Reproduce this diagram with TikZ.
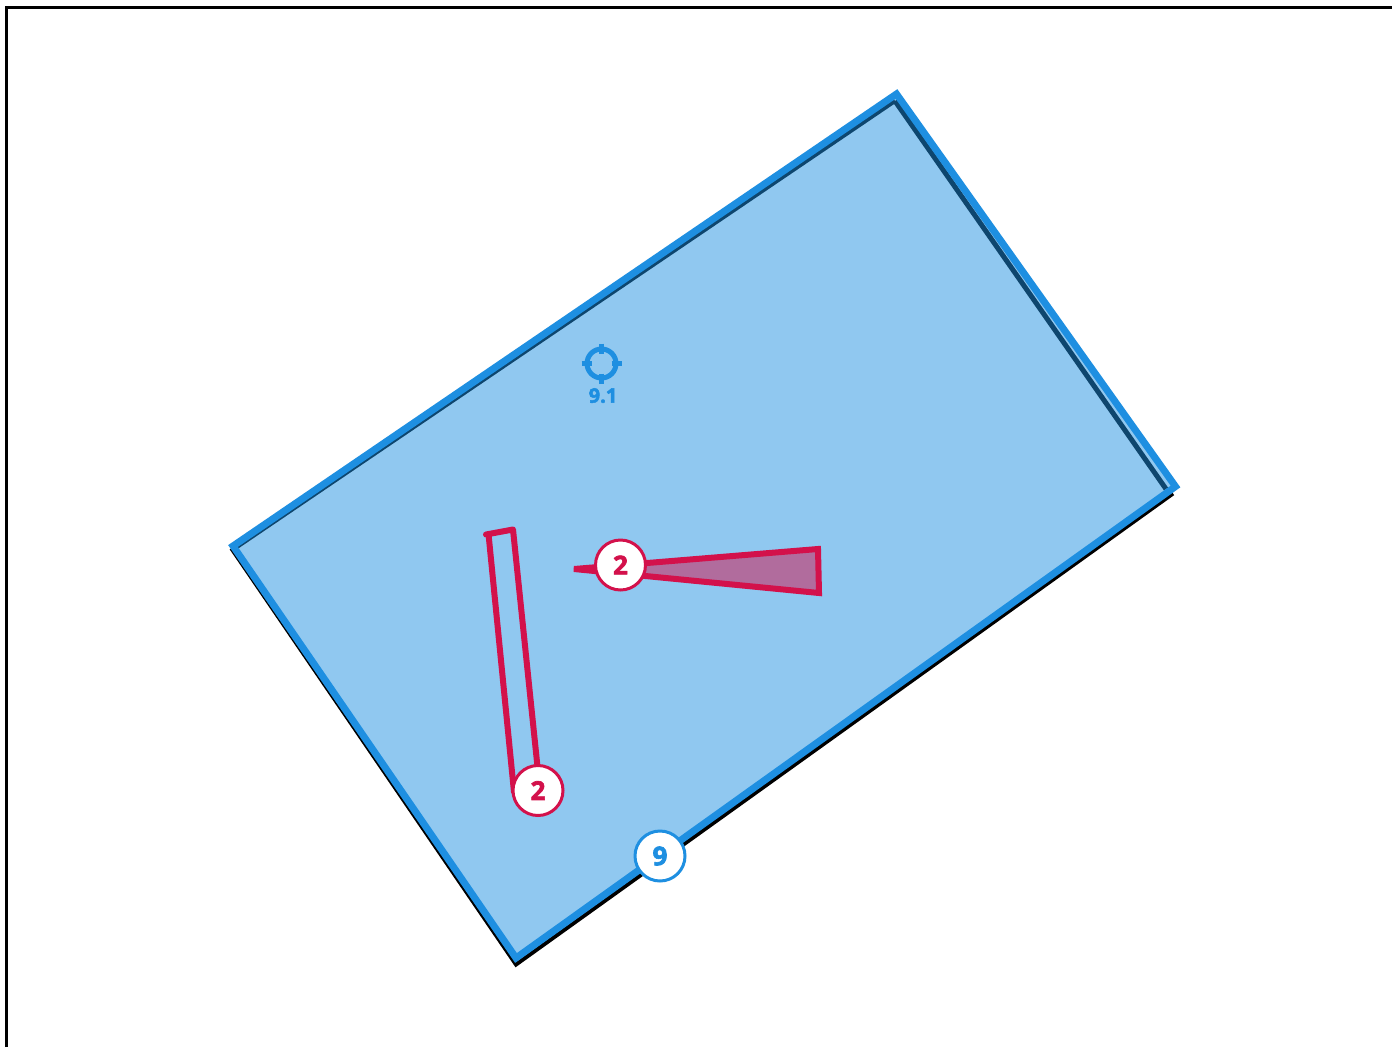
\documentclass[tikz,border=0pt]{standalone}
\usepackage{fontspec}
\setmainfont{Open Sans}[BoldFeatures={FakeBold=2.5}]
\usepackage{tikz}
\usetikzlibrary{positioning}

\definecolor{roofblue}{HTML}{1E8FE1}
\definecolor{cutred}{HTML}{D3114B}

\begin{document}
\begin{tikzpicture}[
            x=1pt, y=-1pt,
            tag_blue/.style={circle, draw=roofblue, fill=white, line width=3pt, minimum size=50pt, inner sep=0pt, text=roofblue, font=\fontsize{26}{26}\selectfont\bfseries},
            tag_red/.style={circle, draw=cutred, fill=white, line width=3pt, minimum size=50pt, inner sep=0pt, text=cutred, font=\fontsize{26}{26}\selectfont\bfseries},
            shadow_line/.style={draw=black, line width=4pt, miter limit=10},
            roof_face/.style={draw=none, fill=roofblue, fill opacity=0.49},
            roof_line/.style={draw=roofblue, line width=7pt, miter limit=10},
            cut_line/.style={draw=cutred, line width=6pt},
            mark_line/.style={draw=roofblue, line width=4.5pt}
            ]

            \useasboundingbox (0,0) rectangle (1392,1047);
            \fill[white] (0,0) rectangle (1392,1047);

            % Frame
            \coordinate (frame1) at (6.5,1047);
            \coordinate (frame2) at (6.5,7.5);
            \coordinate (frame3) at (1392,7.5);
            \draw[black, line width=2.8pt] (frame1) -- (frame2) -- (frame3);

            % Roof corners
            \coordinate (top) at (896.5,94);
            \coordinate (right) at (1175.5,486.5);
            \coordinate (bottom) at (516,958);
            \coordinate (left) at (233,546);

            % Shadow corners
            \coordinate (s_top) at (895,101);
            \coordinate (s_inner) at (1166,489);
            \coordinate (s_right) at (1173,493.5);
            \coordinate (s_bottom) at (516,964.5);
            \coordinate (s_left) at (232.5,550);

            % Roof
            \draw[shadow_line, line width=5pt] (s_top) -- (s_inner);
            \draw[shadow_line] (s_right) -- (s_bottom) -- (s_left) -- (s_top);
            \fill[roof_face] (top) -- (right) -- (bottom) -- (left) -- cycle;
            \draw[roof_line] (top) -- (right) -- (bottom) -- (left) -- cycle;

            % Wedge
            \coordinate (w_tip) at (574,569);
            \coordinate (w_top) at (818,549);
            \coordinate (w_low) at (819,593);
            \draw[cut_line, fill=cutred, fill opacity=0.5, draw opacity=1] (w_tip) -- (w_top) -- (w_low) -- cycle;

            % Bar
            \coordinate (b_tl) at (486,534.5);
            \coordinate (b_tr) at (513,529.5);
            \coordinate (b_br) at (540,791);
            \coordinate (b_bl) at (514,792);
            \coordinate (b_end) at (488.5,534);
            \draw[cut_line, line cap=round, line join=round] (b_tl) -- (b_tr) -- (b_br) -- (b_bl) -- (b_end);

            % Target
            \node[circle, draw=roofblue, line width=5pt, minimum size=29pt, inner sep=0pt] (target) at (601.5,363.5) {};
            \node[below=7.5pt of target, xshift=1.5pt, inner sep=0pt, text=roofblue, font=\fontsize{20}{20}\selectfont\bfseries] (target_label) {9.1};
            \draw[mark_line] ([xshift=-20pt]target.center) -- ([xshift=-10pt]target.center);
            \draw[mark_line] ([xshift=10pt]target.center) -- ([xshift=20pt]target.center);
            \draw[mark_line] ([yshift=20pt]target.center) -- ([yshift=10pt]target.center);
            \draw[mark_line] ([yshift=-10pt]target.center) -- ([yshift=-20pt]target.center);

            % Tags
            \node[tag_red] (tag_wedge) at (620.5,565) {2};
            \node[tag_red] (tag_bar) at (538,790.5) {2};
            \node[tag_blue] (tag_roof) at (660,856) {9};

        \end{tikzpicture}
\end{document}
